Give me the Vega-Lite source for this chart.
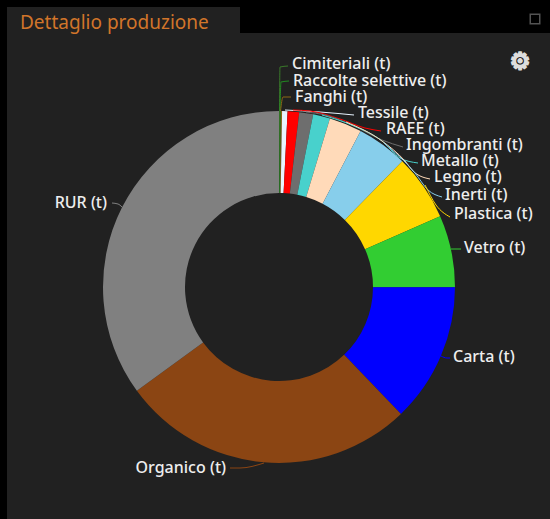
{"$schema":"https://vega.github.io/schema/vega-lite/v6.json","width":550,"height":519,"autosize":{"type":"fit","contains":"padding"},"padding":0,"background":"#000000","config":{"view":{"stroke":null}},
"datasets":{
"panels":[{"x0":7,"x1":550,"y0":33,"y1":519},{"x0":7,"x1":240,"y0":7,"y1":33}],
"slices":[{"name":"Cimiteriali (t)","ord":1,"v":0.3},{"name":"Raccolte selettive (t)","ord":2,"v":0.3},{"name":"Fanghi (t)","ord":3,"v":0.4},{"name":"Tessile (t)","ord":4,"v":1.8},{"name":"RAEE (t)","ord":5,"v":3.8},{"name":"Ingombranti (t)","ord":6,"v":4.6},{"name":"Metallo (t)","ord":7,"v":5.6},{"name":"Legno (t)","ord":8,"v":10.8},{"name":"Inerti (t)","ord":9,"v":16.8},{"name":"Plastica (t)","ord":10,"v":21.8},{"name":"Vetro (t)","ord":11,"v":23.8},{"name":"Carta (t)","ord":12,"v":46},{"name":"Organico (t)","ord":13,"v":97.6},{"name":"RUR (t)","ord":14,"v":126}],
"leaders":[
{"name":"Cimiteriali (t)","i":1,"x":279.5,"y":111},{"name":"Cimiteriali (t)","i":2,"x":280,"y":67},{"name":"Cimiteriali (t)","i":3,"x":288,"y":66},
{"name":"Raccolte selettive (t)","i":1,"x":280,"y":111},{"name":"Raccolte selettive (t)","i":2,"x":281,"y":82},{"name":"Raccolte selettive (t)","i":3,"x":289,"y":81},
{"name":"Fanghi (t)","i":1,"x":280.5,"y":111},{"name":"Fanghi (t)","i":2,"x":283,"y":97},{"name":"Fanghi (t)","i":3,"x":291,"y":97},
{"name":"Tessile (t)","i":1,"x":285,"y":110},{"name":"Tessile (t)","i":2,"x":320,"y":112},{"name":"Tessile (t)","i":3,"x":354,"y":115},
{"name":"RAEE (t)","i":1,"x":293,"y":110},{"name":"RAEE (t)","i":2,"x":310,"y":111},{"name":"RAEE (t)","i":3,"x":340,"y":119},{"name":"RAEE (t)","i":4,"x":365,"y":128},{"name":"RAEE (t)","i":5,"x":381,"y":131},
{"name":"Ingombranti (t)","i":1,"x":306,"y":112},{"name":"Ingombranti (t)","i":2,"x":325,"y":115},{"name":"Ingombranti (t)","i":3,"x":354,"y":126},{"name":"Ingombranti (t)","i":4,"x":382,"y":140},{"name":"Ingombranti (t)","i":5,"x":403,"y":147},
{"name":"Metallo (t)","i":1,"x":322,"y":115},{"name":"Metallo (t)","i":2,"x":354,"y":126},{"name":"Metallo (t)","i":3,"x":382,"y":141},{"name":"Metallo (t)","i":4,"x":400,"y":158},{"name":"Metallo (t)","i":5,"x":418,"y":163},
{"name":"Legno (t)","i":1,"x":346,"y":122},{"name":"Legno (t)","i":2,"x":382,"y":141},{"name":"Legno (t)","i":3,"x":405,"y":161},{"name":"Legno (t)","i":4,"x":414,"y":172},{"name":"Legno (t)","i":5,"x":430,"y":179},
{"name":"Inerti (t)","i":1,"x":384,"y":143},{"name":"Inerti (t)","i":2,"x":415,"y":173},{"name":"Inerti (t)","i":3,"x":428,"y":190},{"name":"Inerti (t)","i":4,"x":442,"y":197},
{"name":"Plastica (t)","i":1,"x":425,"y":185},{"name":"Plastica (t)","i":2,"x":436,"y":205},{"name":"Plastica (t)","i":3,"x":450,"y":217},
{"name":"Vetro (t)","i":1,"x":451,"y":249},{"name":"Vetro (t)","i":2,"x":455,"y":249},{"name":"Vetro (t)","i":3,"x":461,"y":249},
{"name":"Carta (t)","i":1,"x":441,"y":356},{"name":"Carta (t)","i":2,"x":447,"y":358},{"name":"Carta (t)","i":3,"x":450,"y":358},
{"name":"Organico (t)","i":1,"x":264,"y":463},{"name":"Organico (t)","i":2,"x":240,"y":468},{"name":"Organico (t)","i":3,"x":230,"y":468},
{"name":"RUR (t)","i":1,"x":112,"y":203},{"name":"RUR (t)","i":2,"x":118,"y":204},{"name":"RUR (t)","i":3,"x":122,"y":207}],
"rightLabels":[{"t":"Cimiteriali (t)","x":292,"y":64},{"t":"Raccolte selettive (t)","x":293,"y":81},{"t":"Fanghi (t)","x":295,"y":97},{"t":"Tessile (t)","x":358,"y":113},{"t":"RAEE (t)","x":386,"y":129},{"t":"Ingombranti (t)","x":406,"y":145},{"t":"Metallo (t)","x":421,"y":161},{"t":"Legno (t)","x":434,"y":177},{"t":"Inerti (t)","x":445,"y":195},{"t":"Plastica (t)","x":454,"y":214},{"t":"Vetro (t)","x":464,"y":248},{"t":"Carta (t)","x":453,"y":357}],
"leftLabels":[{"t":"Organico (t)","x":226,"y":468},{"t":"RUR (t)","x":107,"y":203}],
"titleRow":[{"t":"Dettaglio produzione","x":20,"y":23}],
"iconRows":[{"t":"⚙","x":520,"y":62}],
"squareRow":[{"x":535,"y":19}]
},
"layer":[
{"data":{"name":"panels"},"mark":{"type":"rect","color":"#212121"},"encoding":{
"x":{"field":"x0","type":"quantitative","axis":null,"scale":{"domain":[0,550],"nice":false,"zero":false}},"x2":{"field":"x1"},
"y":{"field":"y0","type":"quantitative","axis":null,"scale":{"domain":[519,0],"nice":false,"zero":false}},"y2":{"field":"y1"}}},
{"data":{"name":"slices"},"mark":{"type":"arc","innerRadius":94,"outerRadius":176},"encoding":{
"x":{"datum":279,"type":"quantitative"},"y":{"datum":287,"type":"quantitative"},
"theta":{"field":"v","type":"quantitative","stack":true},"order":{"field":"ord","type":"quantitative"},
"color":{"field":"name","type":"nominal","legend":null,"scale":{"domain":["Cimiteriali (t)","Raccolte selettive (t)","Fanghi (t)","Tessile (t)","RAEE (t)","Ingombranti (t)","Metallo (t)","Legno (t)","Inerti (t)","Plastica (t)","Vetro (t)","Carta (t)","Organico (t)","RUR (t)"],"range":["#3a7a2a","#228b22","#8b6914","#e8f4ff","#ff0000","#6e6e6e","#48d1cc","#ffdab9","#87ceeb","#ffd700","#32cd32","#0000ff","#8b4513","#808080"]}}}},
{"data":{"name":"leaders"},"mark":{"type":"line","strokeWidth":1,"interpolate":"monotone"},"encoding":{
"x":{"field":"x","type":"quantitative"},"y":{"field":"y","type":"quantitative"},"order":{"field":"i","type":"quantitative"},"detail":{"field":"name"},
"color":{"field":"name","type":"nominal","legend":null}}},
{"data":{"name":"rightLabels"},"mark":{"type":"text","align":"left","baseline":"middle","font":"Noto Sans","fontSize":16,"fontWeight":500,"color":"#eeeeee"},"encoding":{"x":{"field":"x","type":"quantitative"},"y":{"field":"y","type":"quantitative"},"text":{"field":"t"}}},
{"data":{"name":"leftLabels"},"mark":{"type":"text","align":"right","baseline":"middle","font":"Noto Sans","fontSize":16,"fontWeight":500,"color":"#eeeeee"},"encoding":{"x":{"field":"x","type":"quantitative"},"y":{"field":"y","type":"quantitative"},"text":{"field":"t"}}},
{"data":{"name":"titleRow"},"mark":{"type":"text","align":"left","baseline":"middle","font":"Noto Sans","fontSize":19,"color":"#d2752a"},"encoding":{"x":{"field":"x","type":"quantitative"},"y":{"field":"y","type":"quantitative"},"text":{"field":"t"}}},
{"data":{"name":"iconRows"},"mark":{"type":"text","align":"center","baseline":"middle","font":"DejaVu Sans","fontSize":23,"color":"#dddddd","stroke":"#dddddd","strokeWidth":2},"encoding":{"x":{"field":"x","type":"quantitative"},"y":{"field":"y","type":"quantitative"},"text":{"field":"t"}}},
{"data":{"name":"squareRow"},"mark":{"type":"point","shape":"square","size":90,"filled":false,"stroke":"#777777","strokeWidth":1.5},"encoding":{"x":{"field":"x","type":"quantitative"},"y":{"field":"y","type":"quantitative"}}}
]}
